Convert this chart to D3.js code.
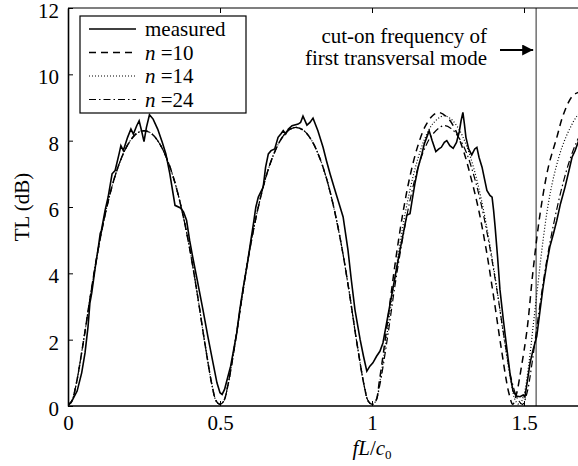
<!DOCTYPE html>
<html>
<head>
<meta charset="utf-8">
<script src="https://cdn.jsdelivr.net/npm/d3@7"></script>
<style>
  body { margin: 0; background: #fff; }
  svg { display: block; font-family: "Liberation Serif", "DejaVu Serif", serif; }
</style>
</head>
<body>
<div id="chart"></div>
<script>
// measured transmission loss
var measuredF = [0, 0.01, 0.03, 0.045, 0.056, 0.066, 0.072, 0.078, 0.09, 0.1, 0.106, 0.11, 0.122, 0.132, 0.145, 0.155, 0.168, 0.174, 0.182, 0.196, 0.207, 0.215, 0.226, 0.234, 0.242, 0.25, 0.258, 0.268, 0.28, 0.295, 0.31, 0.322, 0.335, 0.352, 0.37, 0.38, 0.39, 0.4, 0.41, 0.425, 0.444, 0.46, 0.477, 0.49, 0.5, 0.507, 0.515, 0.525, 0.535, 0.545, 0.555, 0.565, 0.577, 0.59, 0.6, 0.61, 0.618, 0.626, 0.642, 0.65, 0.659, 0.668, 0.68, 0.691, 0.7, 0.708, 0.716, 0.725, 0.737, 0.757, 0.765, 0.773, 0.786, 0.796, 0.806, 0.822, 0.839, 0.85, 0.862, 0.875, 0.885, 0.905, 0.921, 0.932, 0.944, 0.961, 0.972, 0.983, 0.993, 1.003, 1.015, 1.026, 1.036, 1.05, 1.06, 1.07, 1.08, 1.092, 1.105, 1.115, 1.125, 1.132, 1.141, 1.152, 1.164, 1.172, 1.18, 1.188, 1.198, 1.21, 1.22, 1.228, 1.238, 1.246, 1.256, 1.267, 1.278, 1.287, 1.293, 1.299, 1.304, 1.309, 1.318, 1.328, 1.338, 1.345, 1.352, 1.362, 1.37, 1.378, 1.388, 1.395, 1.4, 1.405, 1.413, 1.421, 1.432, 1.444, 1.455, 1.464, 1.475, 1.487, 1.497, 1.503, 1.512, 1.52, 1.53, 1.542, 1.553, 1.563, 1.575, 1.585, 1.597, 1.608, 1.62, 1.635, 1.648, 1.658, 1.668, 1.678, 1.69, 1.7];
var measuredTL = [0.05, 0.1, 0.45, 1.0, 1.6, 2.4, 3.1, 3.4, 4.2, 4.8, 5.2, 5.3, 5.9, 6.3, 7.0, 7.1, 7.6, 7.85, 7.7, 8.1, 8.35, 8.2, 8.45, 8.6, 8.3, 7.97, 8.4, 8.78, 8.65, 8.35, 7.95, 7.6, 7.0, 6.05, 5.97, 5.85, 5.6, 5.0, 4.5, 3.8, 2.9, 2.1, 1.3, 0.7, 0.4, 0.35, 0.5, 0.85, 1.2, 1.7, 2.2, 2.9, 3.6, 4.3, 4.9, 5.5, 6.0, 6.3, 6.6, 7.2, 7.6, 7.7, 7.75, 8.1, 8.2, 8.3, 8.2, 8.35, 8.45, 8.5, 8.55, 8.74, 8.47, 8.55, 8.68, 8.3, 7.8, 7.4, 7.0, 6.6, 6.3, 5.7, 4.7, 3.8, 2.9, 2.0, 1.5, 1.05, 1.2, 1.3, 1.5, 1.65, 1.9, 2.6, 3.1, 3.6, 4.1, 4.7, 5.3, 5.76, 5.8, 6.2, 6.7, 7.2, 7.6, 7.9, 8.1, 8.3, 8.0, 7.67, 7.75, 7.8, 7.95, 8.0, 7.85, 7.77, 7.95, 8.27, 8.6, 8.85, 8.5, 8.1, 7.75, 7.57, 7.75, 7.8, 7.5, 7.2, 6.85, 6.5, 6.35, 6.3, 5.9, 5.4, 4.5, 3.5, 2.6, 1.7, 0.9, 0.45, 0.3, 0.28, 0.33, 0.27, 0.8, 1.3, 1.7, 2.1, 2.9, 3.6, 4.3, 4.8, 5.2, 5.6, 6.1, 6.6, 7.1, 7.5, 7.7, 7.95, 8.2, 8.35];

// simulations, first two lobes read as common frequencies
var lowF = [0, 0.0125, 0.025, 0.05, 0.075, 0.1, 0.125, 0.15, 0.175, 0.2, 0.225, 0.25, 0.275, 0.3, 0.325, 0.35, 0.375, 0.4, 0.425, 0.45, 0.475, 0.4875, 0.5, 0.5125, 0.525, 0.55, 0.575, 0.6, 0.625, 0.65, 0.675, 0.7, 0.725, 0.75, 0.775, 0.8, 0.825, 0.85, 0.875, 0.9, 0.925, 0.95, 0.975, 0.9875, 1.0];
var lowTL = [0.02, 0.15, 0.57, 1.9, 3.4, 4.76, 5.89, 6.79, 7.46, 7.93, 8.21, 8.3, 8.21, 7.93, 7.46, 6.79, 5.89, 4.76, 3.4, 1.9, 0.57, 0.15, 0.05, 0.15, 0.58, 1.92, 3.44, 4.82, 5.96, 6.87, 7.55, 8.03, 8.31, 8.4, 8.31, 8.03, 7.55, 6.87, 5.96, 4.82, 3.44, 1.92, 0.58, 0.15, 0.05];

// n = 10
var n10F = [1.0125, 1.025, 1.05, 1.075, 1.1, 1.125, 1.15, 1.175, 1.2, 1.22, 1.25, 1.275, 1.3, 1.325, 1.35, 1.375, 1.4, 1.425, 1.45, 1.463, 1.475, 1.49, 1.51, 1.53, 1.553, 1.58, 1.608, 1.63, 1.66, 1.685, 1.7];
var n10TL = [0.15, 0.8, 2.46, 4.22, 5.73, 6.93, 7.82, 8.43, 8.76, 8.85, 8.68, 8.31, 7.72, 6.9, 5.95, 4.75, 3.3, 1.75, 0.4, 0.05, 0.35, 1.1, 2.3, 4.1, 5.8, 7.2, 8.1, 8.8, 9.35, 9.47, 9.45];

// n = 14
var n14F = [1.0125, 1.025, 1.05, 1.075, 1.1, 1.125, 1.15, 1.175, 1.2, 1.235, 1.26, 1.285, 1.31, 1.335, 1.36, 1.385, 1.41, 1.435, 1.46, 1.4725, 1.485, 1.5, 1.515, 1.53, 1.545, 1.56, 1.58, 1.6, 1.625, 1.65, 1.675, 1.7];
var n14TL = [0.15, 0.69, 2.21, 3.86, 5.33, 6.52, 7.43, 8.09, 8.51, 8.75, 8.65, 8.36, 7.87, 7.16, 6.21, 5.01, 3.59, 2.0, 0.6, 0.15, 0.05, 0.35, 1.2, 2.4, 3.6, 4.8, 6.1, 7.0, 7.8, 8.35, 8.75, 8.95];

// n = 24
var n24F = [1.0125, 1.025, 1.05, 1.075, 1.1, 1.125, 1.15, 1.175, 1.2, 1.235, 1.26, 1.285, 1.31, 1.335, 1.36, 1.385, 1.41, 1.435, 1.46, 1.48, 1.495, 1.51, 1.525, 1.55, 1.575, 1.6, 1.625, 1.65, 1.675, 1.7];
var n24TL = [0.15, 0.6, 2.0, 3.6, 5.0, 6.2, 7.15, 7.8, 8.2, 8.45, 8.37, 8.1, 7.65, 6.95, 6.05, 4.9, 3.55, 2.05, 0.75, 0.2, 0.05, 0.4, 1.2, 2.9, 4.4, 5.6, 6.6, 7.4, 8.0, 8.4];

var xTicks = [0, 0.5, 1, 1.5];
var xTickLabels = ['0', '0.5', '1', '1.5'];
var yTicks = [0, 2, 4, 6, 8, 10, 12];
var cutOnF = 1.54;
var legendNames = ['measured', '10', '14', '24'];

var width = 578, height = 466;
var margin = {top: 8, left: 68, bottom: 60};
var plotBottom = height - margin.bottom;

var x = d3.scaleLinear().domain([0, 1.7]).range([margin.left, margin.left + 1.7 * 304]);
var y = d3.scaleLinear().domain([0, 12]).range([plotBottom, margin.top]);

var svg = d3.select('#chart').append('svg')
    .attr('width', width)
    .attr('height', height);

svg.append('defs').append('clipPath')
    .attr('id', 'plot-clip')
    .append('rect')
    .attr('x', margin.left)
    .attr('y', margin.top - 2)
    .attr('width', width - margin.left)
    .attr('height', plotBottom - margin.top + 2);

function zipSeries(fs, tls) {
    return fs.map(function(f, i) { return [f, tls[i]]; });
}

var simLow = zipSeries(lowF, lowTL);
var series = [
    {name: 'measured', data: zipSeries(measuredF, measuredTL), dash: null, width: 1.6, curve: d3.curveLinear},
    {name: 'n10', data: simLow.concat(zipSeries(n10F, n10TL)), dash: '7,5', width: 1.5, curve: d3.curveCatmullRom},
    {name: 'n14', data: simLow.concat(zipSeries(n14F, n14TL)), dash: '1,2', width: 1.2, curve: d3.curveCatmullRom},
    {name: 'n24', data: simLow.concat(zipSeries(n24F, n24TL)), dash: '7,3,1.5,3', width: 1.2, curve: d3.curveCatmullRom}
];

var plot = svg.append('g').attr('clip-path', 'url(#plot-clip)');

// cut-on line
plot.append('line')
    .attr('x1', x(cutOnF)).attr('x2', x(cutOnF))
    .attr('y1', margin.top).attr('y2', plotBottom)
    .style('stroke', '#707070')
    .style('stroke-width', 1.5);

series.slice().reverse().forEach(function(s) {
    var line = d3.line()
        .curve(s.curve)
        .x(function(d) { return x(d[0]); })
        .y(function(d) { return y(d[1]); });
    plot.append('path')
        .datum(s.data)
        .attr('d', line)
        .style('fill', 'none')
        .style('stroke', '#000')
        .style('stroke-width', s.width)
        .style('stroke-dasharray', s.dash);
});

// axes
var xAxis = d3.axisBottom(x).tickValues(xTicks).tickSizeInner(-5).tickSizeOuter(0)
    .tickFormat(function(d, i) { return xTickLabels[i]; }).tickPadding(9);
var gx = svg.append('g')
    .attr('transform', 'translate(0,' + plotBottom + ')')
    .call(xAxis);
gx.select('.domain').attr('d', 'M' + margin.left + ',0H' + width).style('stroke-width', 1.6);

var xAxisTop = d3.axisTop(x).tickValues(xTicks).tickSizeInner(-5).tickSizeOuter(0).tickFormat('');
var gxt = svg.append('g')
    .attr('transform', 'translate(0,' + margin.top + ')')
    .call(xAxisTop);
gxt.select('.domain').attr('d', 'M' + margin.left + ',0H' + width).style('stroke-width', 1.2);

var yAxis = d3.axisLeft(y).tickValues(yTicks).tickSizeInner(-5).tickSizeOuter(0).tickPadding(9);
var gy = svg.append('g')
    .attr('transform', 'translate(' + margin.left + ',0)')
    .call(yAxis);
gy.select('.domain').style('stroke-width', 1.6);
gy.selectAll('.tick text').attr('dy', '0.45em');

svg.selectAll('.tick text')
    .attr('font-family', '"Liberation Serif", serif')
    .attr('font-size', '21px')
    .attr('fill', '#000');
svg.selectAll('.tick line').style('stroke', '#000');

// axis titles
svg.append('text')
    .attr('transform', 'translate(29,' + y(6) + ') rotate(-90)')
    .attr('text-anchor', 'middle')
    .attr('font-size', '21px')
    .text('TL (dB)');

var xt = svg.append('text')
    .attr('x', x(1))
    .attr('y', 455)
    .attr('text-anchor', 'middle')
    .attr('font-size', '21px');
xt.append('tspan').attr('font-style', 'italic').text('fL');
xt.append('tspan').text('/');
xt.append('tspan').attr('font-style', 'italic').text('c');
xt.append('tspan').attr('font-size', '13px').attr('dy', 4).text('0');

// annotation
var ann = svg.append('text')
    .attr('text-anchor', 'end')
    .attr('font-size', '21px');
ann.append('tspan').attr('x', 487).attr('y', 43).text('cut-on frequency of');
ann.append('tspan').attr('x', 487).attr('y', 65).text('first transversal mode');

svg.append('defs').append('marker')
    .attr('id', 'arrowhead')
    .attr('viewBox', '0 0 10 10')
    .attr('refX', 10).attr('refY', 5)
    .attr('markerWidth', 5).attr('markerHeight', 5)
    .attr('orient', 'auto')
    .append('path')
    .attr('d', 'M0,0L10,5L0,10Z')
    .style('fill', '#000');

svg.append('line')
    .attr('x1', 500).attr('x2', x(cutOnF) - 3)
    .attr('y1', 50).attr('y2', 50)
    .style('stroke', '#000')
    .style('stroke-width', 2.2)
    .attr('marker-end', 'url(#arrowhead)');

// legend
var legend = svg.append('g');
legend.append('rect')
    .attr('x', 80).attr('y', 16)
    .attr('width', 166).attr('height', 97)
    .style('fill', '#fff')
    .style('stroke', '#000')
    .style('stroke-width', 1.2);

series.forEach(function(s, i) {
    var ly = 29 + i * 23.5;
    legend.append('line')
        .attr('x1', 89).attr('x2', 136)
        .attr('y1', ly).attr('y2', ly)
        .style('stroke', '#000')
        .style('stroke-width', s.width)
        .style('stroke-dasharray', s.dash);
    var t = legend.append('text')
        .attr('x', 145).attr('y', ly + 7)
        .attr('font-size', '21px');
    if (i === 0) {
        t.text(legendNames[i]);
    } else {
        t.append('tspan').attr('font-style', 'italic').text('n');
        t.append('tspan').text(' =' + legendNames[i]);
    }
});
</script>
</body>
</html>
